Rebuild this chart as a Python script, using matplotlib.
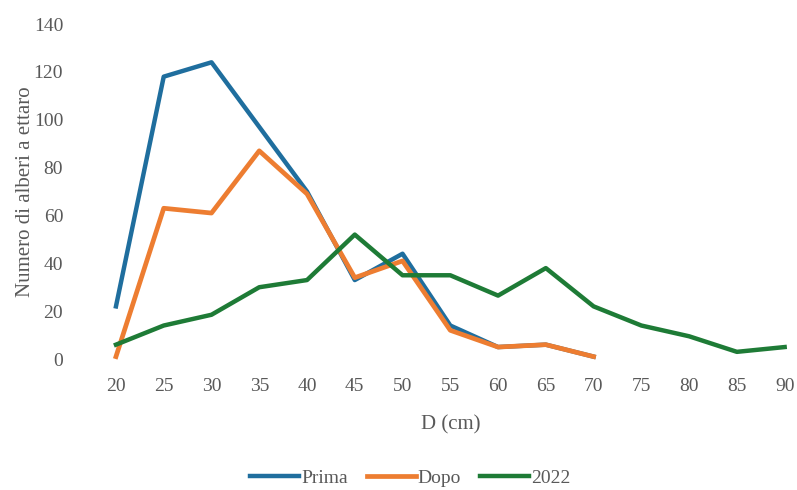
import matplotlib.pyplot as plt

diametri = [20, 25, 30, 35, 40, 45, 50, 55, 60, 65, 70, 75, 80, 85, 90]
prima = [22, 118, 124, 97, 70, 33, 44, 14, 5, 6, 1]
dopo = [1, 63, 61, 87, 69, 34, 41, 12, 5, 6, 1]
anno_2022 = [6, 14, 18.5, 30, 33, 52, 35, 35, 26.5, 38, 22, 14, 9.5, 3, 5]

plt.rcParams['font.family'] = ['Liberation Serif', 'DejaVu Serif']
grigio = '#595959'

fig = plt.figure(figsize=(7.97, 4.9), dpi=100)
ax = fig.add_axes([0.1455, 0.2673, 0.839, 0.6837])

ax.plot(diametri[:len(prima)], prima, color='#1f6e9e', lw=3.2, label='Prima', clip_on=False)
ax.plot(diametri[:len(dopo)], dopo, color='#ed7d31', lw=3.4, label='Dopo', clip_on=False)
ax.plot(diametri, anno_2022, color='#1e7b36', lw=3.2, label='2022', clip_on=False)

ax.set_xlim(20, 90)
ax.set_ylim(0, 140)
ax.set_xticks(diametri)
ax.set_yticks(range(0, 141, 20))
for s in ax.spines.values():
    s.set_visible(False)
ax.tick_params(length=0, labelsize=14, labelcolor=grigio)
ax.tick_params(axis='y', pad=38)
ax.tick_params(axis='x', pad=14)

ax.set_xlabel('D (cm)', fontsize=15, color=grigio, labelpad=14)
ax.set_ylabel('Numero di alberi a ettaro', fontsize=15, color=grigio, labelpad=-1)

fig.legend(loc='center', bbox_to_anchor=(0.515, 0.025), ncol=3, frameon=False,
           fontsize=14, labelcolor=grigio, handlelength=2.5, handletextpad=0.1,
           columnspacing=1.0)

fig.savefig('out.png', dpi=100)
